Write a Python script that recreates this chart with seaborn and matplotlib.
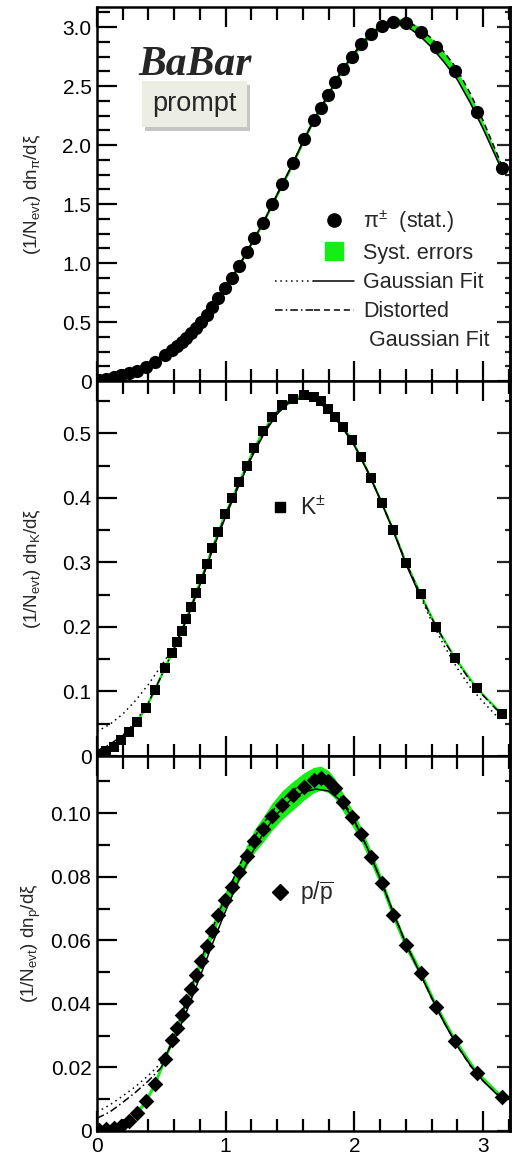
import numpy as np
import matplotlib
matplotlib.use("Agg")
import matplotlib.pyplot as plt
import seaborn as sns
from matplotlib.lines import Line2D
from matplotlib.legend_handler import HandlerTuple
from matplotlib.ticker import MultipleLocator, FuncFormatter
import matplotlib.patheffects as pe

# ---------------- data ----------------
xi_points = [0.016, 0.072, 0.130, 0.190, 0.250, 0.310, 0.380, 0.450, 0.525, 0.585,
             0.620, 0.658, 0.692, 0.729, 0.768, 0.808, 0.852, 0.896, 0.943, 0.995,
             1.052, 1.103, 1.163, 1.222, 1.292, 1.362, 1.440, 1.525, 1.608, 1.683,
             1.740, 1.797, 1.849, 1.909, 1.979, 2.051, 2.129, 2.214, 2.303, 2.401,
             2.516, 2.636, 2.784, 2.952, 3.148]

pi_vals = [0.008, 0.018, 0.033, 0.048, 0.066, 0.085, 0.118, 0.165, 0.217, 0.264,
           0.295, 0.330, 0.365, 0.405, 0.450, 0.500, 0.559, 0.630, 0.701, 0.785,
           0.876, 0.975, 1.090, 1.209, 1.342, 1.497, 1.669, 1.845, 2.048, 2.212,
           2.316, 2.424, 2.534, 2.644, 2.749, 2.853, 2.941, 3.011, 3.045, 3.037,
           2.955, 2.828, 2.627, 2.277, 1.802]
pi_syst = [0.002, 0.002, 0.003, 0.003, 0.004, 0.004, 0.005, 0.005, 0.006, 0.006,
           0.006, 0.007, 0.007, 0.007, 0.008, 0.008, 0.009, 0.009, 0.010, 0.011,
           0.012, 0.013, 0.014, 0.015, 0.016, 0.017, 0.018, 0.019, 0.020, 0.021,
           0.021, 0.022, 0.022, 0.023, 0.023, 0.024, 0.026, 0.028, 0.031, 0.034,
           0.038, 0.040, 0.040, 0.035, 0.020]

k_vals = [0.0020, 0.0070, 0.0145, 0.0248, 0.0367, 0.0532, 0.0749, 0.1023, 0.1359, 0.1602,
          0.1762, 0.1938, 0.2119, 0.2315, 0.2522, 0.2739, 0.2972, 0.3230, 0.3468, 0.3747,
          0.3995, 0.4238, 0.4496, 0.4770, 0.5028, 0.5245, 0.5432, 0.5535, 0.5587, 0.5561,
          0.5494, 0.5380, 0.5251, 0.5096, 0.4899, 0.4630, 0.4305, 0.3917, 0.3504, 0.2997,
          0.2506, 0.2005, 0.1514, 0.1049, 0.0651]
k_syst = [0.0005, 0.0006, 0.0008, 0.0010, 0.0012, 0.0014, 0.0016, 0.0018, 0.0020, 0.0021,
          0.0022, 0.0023, 0.0024, 0.0025, 0.0026, 0.0027, 0.0028, 0.0029, 0.0030, 0.0031,
          0.0032, 0.0033, 0.0034, 0.0035, 0.0036, 0.0037, 0.0038, 0.0038, 0.0038, 0.0037,
          0.0036, 0.0035, 0.0034, 0.0033, 0.0032, 0.0031, 0.0030, 0.0028, 0.0026, 0.0024,
          0.0022, 0.0020, 0.0017, 0.0014, 0.0011]

p_vals = [0.0002, 0.0005, 0.0008, 0.0017, 0.0031, 0.0057, 0.0095, 0.0149, 0.0226, 0.0286,
          0.0325, 0.0365, 0.0409, 0.0446, 0.0491, 0.0535, 0.0582, 0.0630, 0.0680, 0.0727,
          0.0768, 0.0814, 0.0866, 0.0911, 0.0949, 0.0990, 0.1026, 0.1056, 0.1084, 0.1104,
          0.1110, 0.1100, 0.1078, 0.1036, 0.0989, 0.0935, 0.0862, 0.0779, 0.0680, 0.0585,
          0.0496, 0.0391, 0.0283, 0.0183, 0.0107]
p_syst = [0.0003, 0.0003, 0.0004, 0.0005, 0.0006, 0.0007, 0.0008, 0.0009, 0.0010, 0.0011,
          0.0012, 0.0013, 0.0014, 0.0015, 0.0016, 0.0017, 0.0019, 0.0021, 0.0023, 0.0025,
          0.0028, 0.0030, 0.0033, 0.0036, 0.0040, 0.0043, 0.0045, 0.0045, 0.0043, 0.0040,
          0.0038, 0.0035, 0.0032, 0.0029, 0.0026, 0.0023, 0.0021, 0.0019, 0.0017, 0.0015,
          0.0013, 0.0012, 0.0010, 0.0008, 0.0006]

# fit curves
xi_curve = [0.0, 0.1, 0.2, 0.3, 0.4, 0.5, 0.6, 0.7, 0.8, 0.9, 1.0, 1.1, 1.2, 1.3, 1.4, 1.5,
            1.6, 1.7, 1.8, 1.9, 2.0, 2.1, 2.2, 2.3, 2.4, 2.5, 2.6, 2.7, 2.8, 2.9, 3.0, 3.1, 3.15]

pi_gauss = [0.005, 0.024, 0.051, 0.083, 0.130, 0.200, 0.277, 0.374, 0.490, 0.636, 0.793,
            0.968, 1.163, 1.360, 1.580, 1.795, 2.025, 2.243, 2.432, 2.628, 2.780, 2.910,
            2.998, 3.032, 3.012, 2.935, 2.828, 2.700, 2.555, 2.360, 2.140, 1.900, 1.780]
pi_dgauss = [0.005, 0.024, 0.051, 0.083, 0.130, 0.200, 0.277, 0.374, 0.490, 0.636, 0.793,
             0.968, 1.163, 1.360, 1.580, 1.795, 2.025, 2.243, 2.432, 2.628, 2.780, 2.910,
             3.002, 3.050, 3.050, 2.995, 2.905, 2.785, 2.642, 2.440, 2.210, 1.950, 1.818]

k_gauss = [0.038, 0.049, 0.065, 0.086, 0.111, 0.140, 0.170, 0.212, 0.265, 0.320, 0.371,
           0.418, 0.462, 0.500, 0.530, 0.549, 0.556, 0.551, 0.536, 0.511, 0.481, 0.442,
           0.398, 0.350, 0.298, 0.253, 0.209, 0.170, 0.136, 0.107, 0.084, 0.063, 0.055]
k_dgauss = [0.008, 0.018, 0.032, 0.053, 0.083, 0.124, 0.167, 0.214, 0.267, 0.322, 0.374,
            0.421, 0.465, 0.503, 0.533, 0.551, 0.557, 0.553, 0.537, 0.512, 0.482, 0.443,
            0.398, 0.351, 0.300, 0.256, 0.214, 0.178, 0.146, 0.117, 0.094, 0.073, 0.064]

p_gauss = [0.0060, 0.0082, 0.0110, 0.0140, 0.0175, 0.0215, 0.0285, 0.0380, 0.0485, 0.0592,
           0.0693, 0.0788, 0.0872, 0.0942, 0.0998, 0.1040, 0.1066, 0.1076, 0.1070, 0.1038,
           0.0975, 0.0892, 0.0795, 0.0690, 0.0590, 0.0505, 0.0420, 0.0340, 0.0268, 0.0208,
           0.0158, 0.0118, 0.0102]
p_dgauss = [0.0040, 0.0060, 0.0090, 0.0122, 0.0158, 0.0200, 0.0300, 0.0415, 0.0528, 0.0640,
            0.0740, 0.0830, 0.0910, 0.0972, 0.1025, 0.1065, 0.1095, 0.1108, 0.1098, 0.1048,
            0.0978, 0.0892, 0.0795, 0.0690, 0.0590, 0.0505, 0.0420, 0.0340, 0.0268, 0.0206,
            0.0158, 0.0120, 0.0105]

fit_ranges = {"pi": (0.4, 3.15), "K": (0.6, 2.5), "p": (0.5, 3.15)}

y_labels = ["(1/N$_{\\mathrm{evt}}$) dn$_{\\mathrm{π}}$/dξ",
            "(1/N$_{\\mathrm{evt}}$) dn$_{\\mathrm{K}}$/dξ",
            "(1/N$_{\\mathrm{evt}}$) dn$_{\\mathrm{p}}$/dξ"]

# ---------------- style ----------------
sns.set_style("ticks")
plt.rcParams["font.family"] = ["Liberation Sans", "DejaVu Sans"]
plt.rcParams["mathtext.fontset"] = "custom"
plt.rcParams["mathtext.rm"] = "Liberation Sans"
plt.rcParams["mathtext.it"] = "Liberation Sans:italic"
plt.rcParams["mathtext.bf"] = "Liberation Sans:bold"
plt.rcParams["mathtext.sf"] = "Liberation Sans"
plt.rcParams["axes.linewidth"] = 1.8
plt.rcParams["axes.edgecolor"] = "black"

GREEN = "#14ee14"
DOT = (0, (1, 2.5))
DASH = (0, (4, 2.5))
DASHDOT = (0, (5, 2, 1, 2))

fig = plt.figure(figsize=(5.24, 11.52), dpi=100)
left, width = 97 / 524, 413 / 524
ax_pi = fig.add_axes([left, 1 - 381 / 1152, width, 374 / 1152])
ax_k = fig.add_axes([left, 1 - 756 / 1152, width, 375 / 1152])
ax_p = fig.add_axes([left, 1 - 1131 / 1152, width, 375 / 1152])


def draw_fit(ax, yc, lo, hi, ls_in, ls_out):
    xc = np.asarray(xi_curve)
    yc = np.asarray(yc)
    m_in = (xc >= lo - 1e-9) & (xc <= hi + 1e-9)
    m_lo = xc <= lo + 1e-9
    m_hi = xc >= hi - 1e-9
    for m, ls in ((m_in, ls_in), (m_lo, ls_out), (m_hi, ls_out)):
        if m.sum() >= 2:
            sns.lineplot(x=xc[m], y=yc[m], ax=ax, color="black", lw=1.1,
                         linestyle=ls, sort=False, estimator=None, legend=False, zorder=3)


def panel(ax, vals, syst, gauss, dgauss, rng, marker, msize, ymax, major, minor, fmt, ylab):
    x = np.asarray(xi_points)
    v = np.asarray(vals)
    s = np.asarray(syst)
    ax.fill_between(x, v - s, v + s, color=GREEN, lw=0, zorder=1)
    sns.lineplot(x=x, y=v, ax=ax, color=GREEN, lw=1.6, sort=False, estimator=None,
                 legend=False, zorder=2)
    draw_fit(ax, gauss, rng[0], rng[1], "-", DOT)
    draw_fit(ax, dgauss, rng[0], rng[1], DASH, DASHDOT)
    sns.scatterplot(x=x, y=v, ax=ax, marker=marker, s=msize ** 2, color="black",
                    edgecolor="black", linewidth=0, zorder=5, legend=False)
    ax.set_xlim(0, 3.21)
    ax.set_ylim(0, ymax)
    ax.xaxis.set_major_locator(MultipleLocator(1))
    ax.xaxis.set_minor_locator(MultipleLocator(0.2))
    ax.yaxis.set_major_locator(MultipleLocator(major))
    ax.yaxis.set_minor_locator(MultipleLocator(minor))
    ax.yaxis.set_major_formatter(FuncFormatter(lambda val, pos: "0" if abs(val) < 1e-12 else fmt % val))
    ax.tick_params(which="both", direction="in", top=True, right=False, width=1.6,
                   labelsize=15, pad=4, colors="black")
    ax.tick_params(which="major", length=14.5)
    ax.tick_params(which="minor", length=9)
    sec = ax.secondary_yaxis("right")
    sec.yaxis.set_major_locator(MultipleLocator(major))
    sec.yaxis.set_minor_locator(MultipleLocator(minor))
    sec.tick_params(which="both", direction="in", width=1.6, labelright=False)
    sec.tick_params(which="major", length=9.5)
    sec.tick_params(which="minor", length=3.8)
    sec.spines["right"].set_linewidth(1.8)
    ax.set_xlabel("")
    ax.set_ylabel(ylab, fontsize=13.5)
    ax.yaxis.set_label_coords(-0.13, 0.5)
    for sp in ax.spines.values():
        sp.set_visible(True)
        sp.set_linewidth(1.8)


panel(ax_pi, pi_vals, pi_syst, pi_gauss, pi_dgauss, fit_ranges["pi"], "o", 9.5,
      3.17, 0.5, 0.125, "%.1f", y_labels[0])
panel(ax_k, k_vals, k_syst, k_gauss, k_dgauss, fit_ranges["K"], "s", 7.5,
      0.581, 0.1, 0.05, "%.1f", y_labels[1])
panel(ax_p, p_vals, p_syst, p_gauss, p_dgauss, fit_ranges["p"], "D", 8.0,
      0.118, 0.02, 0.01, "%.2f", y_labels[2])

ax_pi.tick_params(labelbottom=False)
ax_k.tick_params(labelbottom=False)
ax_p.xaxis.set_major_formatter(FuncFormatter(lambda val, pos: "%d" % round(val)))

# ---- top legend ----
h_empty = Line2D([], [], linestyle="none")
h_pi = Line2D([], [], linestyle="none", marker="o", color="black", markersize=9.5)
h_sys = Line2D([], [], linestyle="none", marker="s", color=GREEN, markersize=13)
h_g = (Line2D([], [], color="black", lw=1.1, linestyle=DOT),
       Line2D([], [], color="black", lw=1.1, linestyle="-"))
h_d = (Line2D([], [], color="black", lw=1.1, linestyle=DASHDOT),
       Line2D([], [], color="black", lw=1.1, linestyle=DASH))
leg = ax_pi.legend([(h_empty, h_pi), (h_empty, h_sys), h_g, h_d, h_empty],
                   ["π$^{\\pm}$  (stat.)", "Syst. errors", "Gaussian Fit", "Distorted", " Gaussian Fit"],
                   handler_map={tuple: HandlerTuple(ndivide=2, pad=0)},
                   loc="upper left", bbox_to_anchor=(0.431, 0.462), frameon=False,
                   fontsize=15.5, handlelength=3.65, handletextpad=0.45, labelspacing=0.38,
                   borderpad=0, borderaxespad=0)

# ---- BaBar / prompt ----
ax_pi.text(0.238, 0.845, "BaBar", transform=ax_pi.transAxes, ha="center", va="center",
           fontsize=30, fontweight="bold", fontstyle="italic", family="Liberation Serif")
t = ax_pi.text(0.237, 0.741, "prompt", transform=ax_pi.transAxes, ha="center", va="center",
               fontsize=19.5,
               bbox=dict(boxstyle="square,pad=0.38", facecolor="#eceee4", edgecolor="none"))
t.get_bbox_patch().set_path_effects([pe.SimplePatchShadow(offset=(2, -3), shadow_rgbFace="0.55", alpha=0.5),
                                     pe.Normal()])

# ---- K and p legends ----
ax_k.legend([Line2D([], [], linestyle="none", marker="s", color="black", markersize=7.5)],
            ["K$^{\\pm}$"], loc="center left", bbox_to_anchor=(0.4206, 0.66), frameon=False,
            fontsize=16.5, handlelength=0.8, handletextpad=0.5, borderpad=0, borderaxespad=0)
ax_p.legend([Line2D([], [], linestyle="none", marker="D", color="black", markersize=8.0)],
            ["p/$\\overline{\\mathrm{p}}$"], loc="center left", bbox_to_anchor=(0.4206, 0.635),
            frameon=False, fontsize=16.5, handlelength=0.8, handletextpad=0.5,
            borderpad=0, borderaxespad=0)

fig.savefig("out.png", dpi=100)
